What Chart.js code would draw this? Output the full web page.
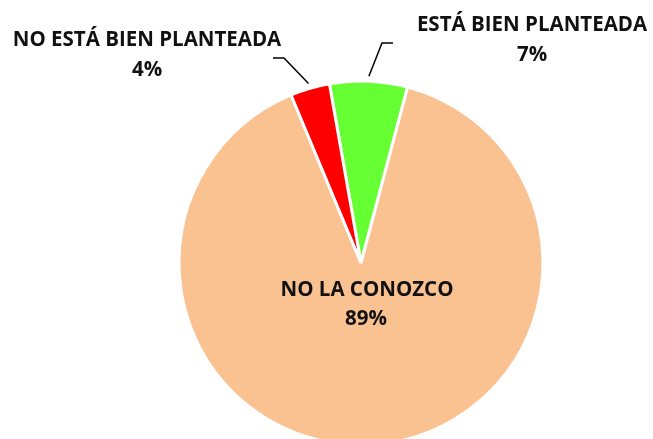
<!DOCTYPE html>
<html>
<head>
<meta charset="utf-8">
<script src="https://cdn.jsdelivr.net/npm/chart.js@4/dist/chart.umd.min.js"></script>
<style>
  html, body { margin: 0; padding: 0; background: #fff; overflow: hidden; }
  #wrap { position: absolute; left: 0; top: 0; width: 653px; height: 460px; }
</style>
</head>
<body>
<div id="wrap"><canvas id="pieChart"></canvas></div>
<script>
// slice data, clockwise from the top
const categories = ['ESTÁ BIEN PLANTEADA', 'NO LA CONOZCO', 'NO ESTÁ BIEN PLANTEADA'];
const shares = [6.9, 89.6, 3.5];
const shareLabels = ['7%', '89%', '4%'];
const sliceColors = ['#66FF33', '#FAC191', '#FF0000'];

const FONT = 'bold 20.5px "Open Sans", Lato, sans-serif';

// where each label sits: text centre and optional leader elbow
const labelSpots = [
    { text: [532, 25], pct: [532, 55], elbow: [382, 43], tail: [393, 43] },
    { text: [367, 290], pct: [366, 319] },
    { text: [147, 40], pct: [147, 70], elbow: [284, 58], tail: [273, 58] }
];

const sliceLabels = {
    id: 'sliceLabels',
    afterDatasetsDraw(chart) {
        const ctx = chart.ctx;
        const arcs = chart.getDatasetMeta(0).data;
        ctx.save();
        arcs.forEach((arc, i) => {
            const spot = labelSpots[i];
            if (spot.elbow) {
                const p = arc.getProps(['x', 'y', 'startAngle', 'endAngle', 'outerRadius'], true);
                const mid = (p.startAngle + p.endAngle) / 2;
                const r = p.outerRadius + 5;
                ctx.beginPath();
                ctx.moveTo(p.x + Math.cos(mid) * r, p.y + Math.sin(mid) * r);
                ctx.lineTo(spot.elbow[0], spot.elbow[1]);
                ctx.lineTo(spot.tail[0], spot.tail[1]);
                ctx.strokeStyle = '#000';
                ctx.lineWidth = 1.5;
                ctx.stroke();
            }
            ctx.fillStyle = '#111';
            ctx.font = FONT;
            ctx.textAlign = 'center';
            ctx.textBaseline = 'middle';
            ctx.fillText(categories[i], spot.text[0], spot.text[1]);
            ctx.fillText(shareLabels[i], spot.pct[0], spot.pct[1]);
        });
        ctx.restore();
    }
};

new Chart(document.getElementById('pieChart'), {
    type: 'pie',
    data: {
        labels: categories,
        datasets: [{
            data: shares,
            backgroundColor: sliceColors,
            borderColor: '#ffffff',
            borderWidth: 3
        }]
    },
    options: {
        responsive: true,
        maintainAspectRatio: false,
        animation: false,
        rotation: -10,
        radius: 182,
        layout: { padding: { left: 179, right: 110, top: 81, bottom: 15 } },
        plugins: {
            legend: { display: false },
            tooltip: { enabled: false }
        }
    },
    plugins: [sliceLabels]
});
</script>
</body>
</html>
